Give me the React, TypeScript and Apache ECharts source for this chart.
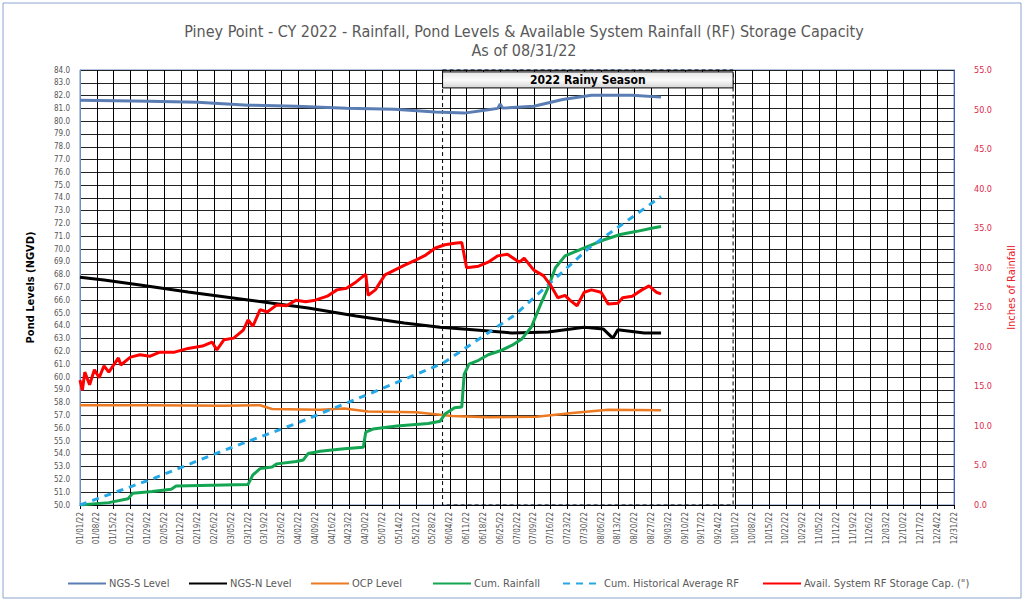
import React, { useEffect, useRef } from "react";
import * as echarts from "echarts";

// ---------- DATA ----------
const startDateUTC = Date.UTC(2022, 0, 1);
const xMaxDay = 364; // 12/31/22
const rainySeasonStartDay = 151; // 06/01/22
const rainySeasonEndDay = 272; // 09/30/22

const titleLine1 =
  "Piney Point - CY 2022 - Rainfall, Pond Levels & Available System Rainfall (RF) Storage Capacity";
const titleLine2 = "As of 08/31/22";
const rainySeasonLabel = "2022 Rainy Season";

const seriesNames = [
  "NGS-S Level",
  "NGS-N Level",
  "OCP Level",
  "Cum. Rainfall",
  "Cum. Historical Average RF",
  "Avail. System RF Storage Cap. (\")",
];

// Pond levels (left axis, ft NGVD)
const ngsSDays = [0, 29, 49, 70, 90, 111, 131, 148, 160, 170, 174, 175, 176, 189, 201, 213, 230, 242];
const ngsSLevels = [81.64, 81.56, 81.48, 81.25, 81.17, 81.02, 80.94, 80.72, 80.63, 80.9, 81.0, 81.35, 81.02, 81.17, 81.7, 82.03, 82.03, 81.88];

const ngsNDays = [0, 10, 25, 45, 70, 95, 115, 135, 150, 165, 180, 195, 210, 218, 221, 222, 224, 235, 242];
const ngsNLevels = [67.81, 67.58, 67.19, 66.64, 66.02, 65.39, 64.77, 64.22, 63.9, 63.67, 63.44, 63.52, 63.9, 63.75, 63.2, 63.05, 63.7, 63.44, 63.44];

const ocpDays = [0, 30, 60, 75, 80, 100, 110, 120, 140, 155, 170, 190, 205, 220, 242];
const ocpLevels = [57.8, 57.8, 57.75, 57.8, 57.5, 57.45, 57.55, 57.3, 57.25, 56.95, 56.85, 56.9, 57.2, 57.45, 57.4];

// Rainfall (right axis, inches)
const cumRainDays = [0, 12, 20, 22, 30, 38, 40, 70, 72, 75, 80, 82, 90, 93, 95, 100, 110, 118, 119, 122, 132, 145, 150, 152, 156, 159, 160, 162, 166, 170, 175, 180, 184, 188, 190, 192, 195, 198, 202, 210, 218, 225, 232, 238, 242];
const cumRainInches = [0, 0.3, 0.8, 1.5, 1.7, 2.0, 2.4, 2.6, 3.8, 4.6, 4.8, 5.2, 5.5, 5.7, 6.5, 6.8, 7.1, 7.3, 9.2, 9.6, 10.0, 10.3, 10.6, 11.5, 12.3, 12.4, 16.5, 17.8, 18.3, 19.0, 19.5, 20.2, 21.0, 22.5, 24.0, 25.5, 27.5, 30.0, 31.5, 32.5, 33.5, 34.2, 34.6, 35.0, 35.2];

const histAvgDays = [0, 31, 59, 90, 120, 151, 181, 212, 242];
const histAvgInches = [0, 3.4, 6.8, 10.3, 14.0, 17.9, 24.0, 32.5, 39.0];

const storageDays = [0, 1, 2, 4, 6, 8, 10, 12, 16, 17, 21, 25, 29, 33, 39, 45, 51, 55, 57, 60, 64, 68, 70, 72, 75, 78, 82, 86, 90, 94, 98, 103, 107, 111, 115, 119, 120, 123, 127, 131, 135, 140, 144, 148, 152, 156, 159, 161, 166, 170, 174, 178, 183, 185, 189, 193, 196, 199, 202, 204, 207, 210, 213, 217, 220, 224, 226, 230, 234, 237, 240, 242];
const storageInches = [15.8, 14.5, 16.8, 15.2, 17.1, 16.1, 17.6, 16.8, 18.6, 17.7, 18.7, 19.0, 18.8, 19.3, 19.3, 19.8, 20.1, 20.6, 19.6, 20.9, 21.1, 22.1, 23.4, 22.6, 24.7, 24.4, 25.3, 25.2, 25.9, 25.7, 25.9, 26.4, 27.2, 27.4, 28.2, 29.2, 26.5, 27.2, 29.1, 29.7, 30.3, 31.0, 31.6, 32.5, 32.9, 33.1, 33.2, 30.0, 30.2, 30.7, 31.5, 31.7, 30.7, 31.2, 29.7, 29.0, 27.8, 26.2, 26.5, 25.9, 25.2, 26.9, 27.2, 26.9, 25.4, 25.5, 26.2, 26.4, 27.2, 27.7, 26.9, 26.7];

const zip = (xs: number[], ys: number[]) => xs.map((x, i) => [x, ys[i]]);

const fmtDate = (d: number) => {
  const dt = new Date(startDateUTC + d * 86400000);
  const mm = String(dt.getUTCMonth() + 1).padStart(2, "0");
  const dd = String(dt.getUTCDate()).padStart(2, "0");
  const yy = String(dt.getUTCFullYear() % 100).padStart(2, "0");
  return `${mm}/${dd}/${yy}`;
};

const FONT = "'Liberation Sans Narrow', 'DejaVu Sans Condensed', 'Liberation Sans', sans-serif";

export default function App() {
  const ref = useRef<HTMLDivElement>(null);
  useEffect(() => {
    if (!ref.current) return;
    const chart = echarts.init(ref.current, undefined, { renderer: "svg" });
    const colors = ["#5a7db3", "#000000", "#ec7a22", "#14a552", "#26a8e6", "#ff0000"];
    const legendLefts = [67, 188, 310, 432, 562, 762];

    const lineSeries = (i: number, data: number[][], yAxisIndex: number, width: number, dashed = false) => ({
      name: seriesNames[i],
      type: "line",
      yAxisIndex,
      data,
      symbol: "none",
      showSymbol: false,
      smooth: false,
      z: 3 + i,
      lineStyle: { color: colors[i], width, type: dashed ? [7, 6] : "solid" },
      itemStyle: { color: colors[i] },
    });

    const s0: any = lineSeries(0, zip(ngsSDays, ngsSLevels), 0, 3);
    s0.markArea = {
      silent: true,
      data: [
        [
          {
            xAxis: rainySeasonStartDay,
            yAxis: 84,
            itemStyle: { color: "rgba(0,0,0,0)", borderColor: "#000", borderWidth: 1, borderType: [4, 3] },
          },
          { xAxis: rainySeasonEndDay, yAxis: 50 },
        ],
        [
          {
            xAxis: rainySeasonStartDay,
            yAxis: 83.85,
            name: rainySeasonLabel,
            itemStyle: {
              color: {
                type: "linear", x: 0, y: 0, x2: 0, y2: 1,
                colorStops: [
                  { offset: 0, color: "#e6e6e6" },
                  { offset: 0.5, color: "#fbfbfb" },
                  { offset: 1, color: "#d4d4d4" },
                ],
              },
              borderColor: "#000",
              borderWidth: 1,
            },
            label: {
              show: true,
              position: "inside",
              color: "#000",
              fontWeight: "bold",
              fontSize: 12,
              fontFamily: FONT,
            },
          },
          { xAxis: rainySeasonEndDay, yAxis: 82.6 },
        ],
      ],
    };

    const option: any = {
      animation: false,
      backgroundColor: "#ffffff",
      textStyle: { fontFamily: FONT },
      graphic: [
        {
          type: "rect",
          shape: { x: 3, y: 3, width: 1018, height: 595 },
          style: { fill: "none", stroke: "#8aa4cf", lineWidth: 1 },
          silent: true,
        },
        {
          type: "text",
          x: 524,
          y: 31,
          style: { text: titleLine1, fill: "#595959", font: `16px ${FONT}`, textAlign: "center", textVerticalAlign: "middle" },
        },
        {
          type: "text",
          x: 524,
          y: 50,
          style: { text: titleLine2, fill: "#595959", font: `16px ${FONT}`, textAlign: "center", textVerticalAlign: "middle" },
        },
      ],
      legend: seriesNames.map((n, i) => ({
        data: [n],
        left: legendLefts[i],
        top: 578,
        itemWidth: 38,
        itemHeight: 12,
        itemGap: 0,
        padding: 0,
        itemStyle: { opacity: 0 },
        textStyle: { color: "#595959", fontSize: 11, fontFamily: FONT, padding: [0, 0, 0, -2] },
      })),
      grid: { left: 80, right: 57, top: 70, bottom: 97, show: true, borderColor: "#6d8dc4", borderWidth: 1 },
      xAxis: {
        type: "value",
        min: 0,
        max: xMaxDay,
        interval: 7,
        axisLine: { show: true, lineStyle: { color: "#000" } },
        axisTick: { show: true, length: 4, lineStyle: { color: "#000" } },
        splitLine: { show: true, lineStyle: { color: "#000", width: 1 } },
        axisLabel: {
          rotate: 90,
          fontSize: 8,
          color: "#555",
          margin: 7,
          formatter: (v: number) => fmtDate(v),
          showMaxLabel: true,
          showMinLabel: true,
          hideOverlap: false,
        },
      },
      yAxis: [
        {
          type: "value",
          min: 50,
          max: 84,
          interval: 1,
          name: "Pond Levels (NGVD)",
          nameLocation: "middle",
          nameRotate: 90,
          nameGap: 44,
          nameTextStyle: { color: "#000", fontWeight: "bold", fontSize: 11, fontFamily: FONT },
          axisLine: { show: true, lineStyle: { color: "#6d8dc4" } },
          axisTick: { show: false },
          splitLine: { show: true, lineStyle: { color: "#222", width: 1 } },
          axisLabel: { fontSize: 8, color: "#555", margin: 10, formatter: (v: number) => v.toFixed(1) },
        },
        {
          type: "value",
          min: 0,
          max: 55,
          interval: 5,
          name: "Inches of Rainfall",
          nameLocation: "middle",
          nameRotate: 90,
          nameGap: 52,
          nameTextStyle: { color: "#e8202a", fontSize: 11, fontFamily: FONT },
          axisLine: { show: true, lineStyle: { color: "#4a5fc0" } },
          axisTick: { show: false },
          splitLine: { show: false },
          axisLabel: { fontSize: 9, color: "#e0284a", margin: 20, formatter: (v: number) => v.toFixed(1) },
        },
      ],
      series: [
        s0,
        lineSeries(1, zip(ngsNDays, ngsNLevels), 0, 3),
        lineSeries(2, zip(ocpDays, ocpLevels), 0, 2.5),
        lineSeries(3, zip(cumRainDays, cumRainInches), 1, 3),
        lineSeries(4, zip(histAvgDays, histAvgInches), 1, 3, true),
        lineSeries(5, zip(storageDays, storageInches), 1, 3),
      ],
    };
    chart.setOption(option);
    return () => chart.dispose();
  }, []);
  return (
    <div
      ref={ref}
      style={{ position: "absolute", left: 0, top: 0, width: 1025, height: 602, background: "#fff" }}
    />
  );
}
